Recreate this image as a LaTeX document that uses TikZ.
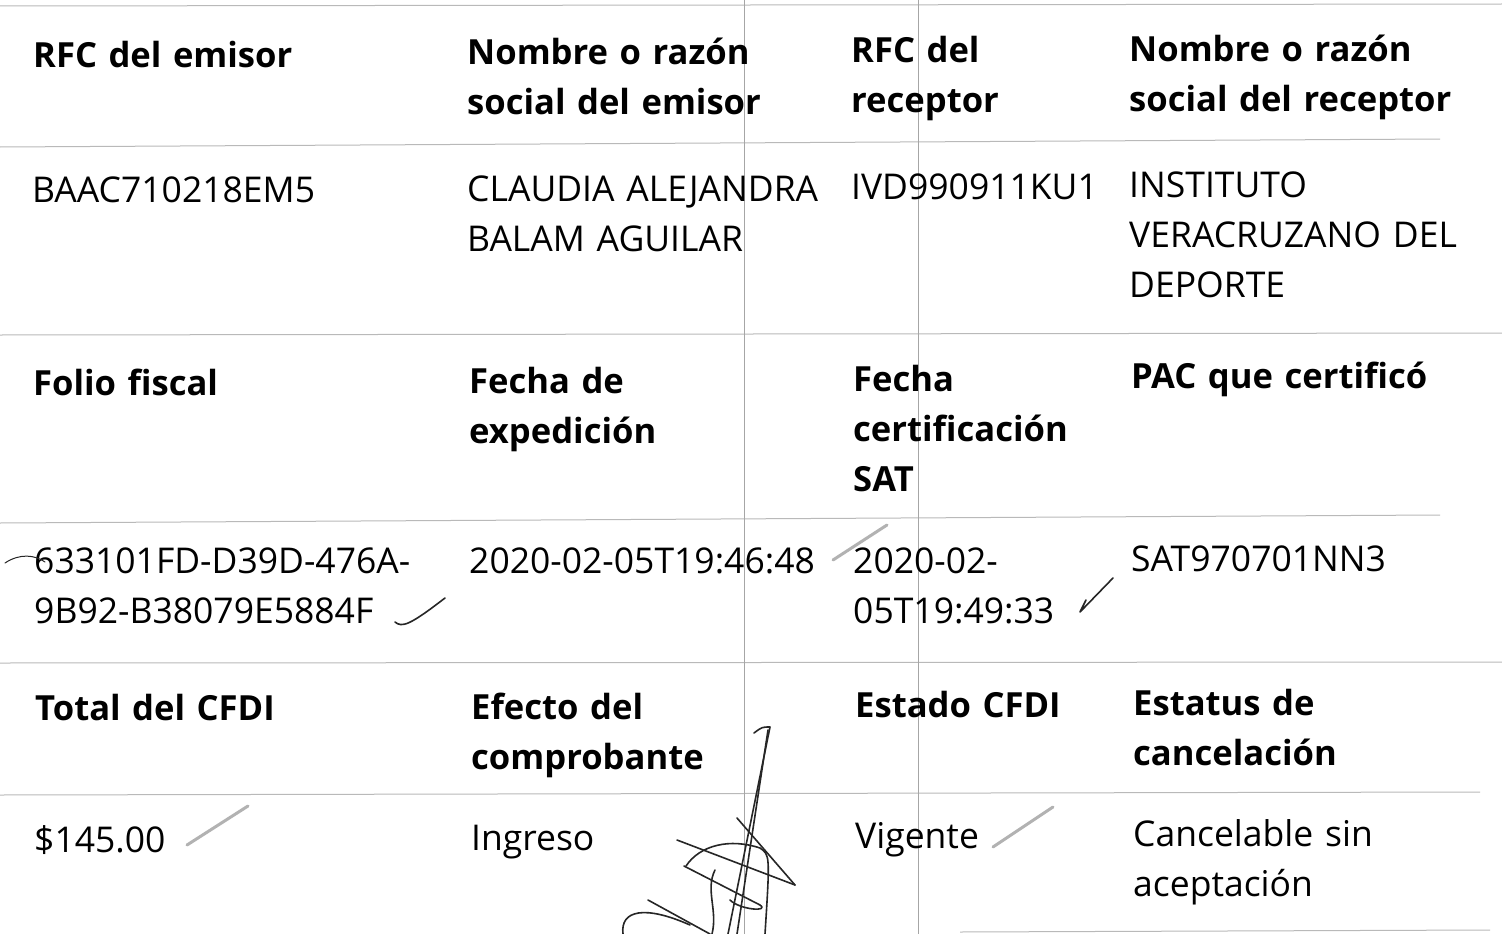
\documentclass[tikz,border=0pt]{standalone}
\usepackage{fontspec}
\setmainfont{Open Sans}
\usepackage{tikz}

\begin{document}
\begin{tikzpicture}[x=1pt,y=-1pt]

\tikzstyle{every node}=[inner sep=0pt, anchor=base west, text width=600pt, align=left, font=\fontsize{35.5}{50}\selectfont]
\tikzstyle{head}=[font=\fontsize{34.6}{50}\selectfont\bfseries]
\tikzstyle{rule}=[gray!55, line width=1pt]
\tikzstyle{fold}=[gray!70, line width=0.8pt]
\tikzstyle{pen}=[black!85, line width=1.6pt, line cap=round, line join=round]
\tikzstyle{pencil}=[gray!60, line width=3pt, line cap=round]

\fill[white] (0,0) rectangle (1502,934);
\useasboundingbox (0,0) rectangle (1502,934);

% table rules and folds
\draw[rule] (0,6) -- (1502,4);
\draw[rule] (0,147) -- (1440,139);
\draw[rule] (0,335) -- (1502,333);
\draw[rule] (0,523) -- (1440,515);
\draw[rule] (0,663) -- (1502,662);
\draw[rule] (0,795) -- (1480,792);
\draw[rule] (960,932) -- (1490,930);
\draw[fold] (744,0) -- (744,934);
\draw[fold] (918,0) -- (918,934);

\pgfmathsetmacro\y{67}
\node[head] (rfcEmisorH) at (33,\y) {RFC del emisor};
\node[head] (nomEmisorH) at (467,\y-2) {Nombre o razón\\social del emisor};
\node[head] (rfcReceptorH) at (851,\y-4) {RFC del\\receptor};
\node[head] (nomReceptorH) at (1129,\y-5) {Nombre o razón\\social del receptor};

\pgfmathsetmacro\y{202}
\node (rfcEmisor) at (32,\y) {BAAC710218EM5};
\node (nomEmisor) at (467,\y-1) {CLAUDIA ALEJANDRA\\BALAM AGUILAR};
\node (rfcReceptor) at (851,\y-3) {IVD990911KU1};
\node (nomReceptor) at (1129,\y-5) {INSTITUTO\\VERACRUZANO DEL\\DEPORTE};

\pgfmathsetmacro\y{395}
\node[head] (folioH) at (33,\y) {Folio fiscal};
\node[head] (expedicionH) at (469,\y-2) {Fecha de\\expedición};
\node[head] (certificacionH) at (853,\y-4) {Fecha\\certificación\\SAT};
\node[head] (pacH) at (1131,\y-7) {PAC que certificó};

\pgfmathsetmacro\y{573}
\node (folio) at (34,\y) {633101FD-D39D-476A-\\9B92-B38079E5884F};
\node (expedicion) at (469,\y) {2020-02-05T19:46:48};
\node (certificacion) at (853,\y) {2020-02-\\05T19:49:33};
\node (pac) at (1131,\y-2) {SAT970701NN3};

\pgfmathsetmacro\y{720}
\node[head] (totalH) at (35,\y) {Total del CFDI};
\node[head] (efectoH) at (471,\y-1) {Efecto del\\comprobante};
\node[head] (estadoH) at (855,\y-3) {Estado CFDI};
\node[head] (estatusH) at (1133,\y-5) {Estatus de\\cancelación};

\pgfmathsetmacro\y{852}
\node (total) at (34,\y) {\$145.00};
\node (efecto) at (471,\y-2) {Ingreso};
\node (estado) at (855,\y-4) {Vigente};
\node (estatus) at (1133,\y-6) {Cancelable sin\\aceptación};

% pen marks
\draw[pen, line width=1pt] (5,563) .. controls (20,553) and (35,555) .. (45,562);
\draw[pen] (395,622) .. controls (402,628) and (410,625) .. (445,598);
\draw[pencil] (833,560) -- (887,525);
\draw[pen] (1086,600) -- (1080,612) -- (1113,578);
\draw[pencil] (187,845) -- (248,806);
\draw[pencil] (993,847) -- (1053,807);

% signature
\draw[pen] (754,733) .. controls (762,727) .. (770,727) -- (728,934);
\draw[pen] (768,730) -- (737,934);
\draw[pen] (737,818) -- (795,885);
\draw[pen] (677,840) -- (795,885);
\draw[pen] (686,866) .. controls (700,845) and (730,838) .. (760,848) .. controls (770,855) .. (765,934);
\draw[pen] (684,866) -- (760,905) .. controls (770,912) and (740,910) .. (730,900);
\draw[pen] (648,900) -- (710,934);
\draw[pen] (623,934) .. controls (620,910) and (645,905) .. (690,925);
\draw[pen] (715,870) .. controls (705,890) and (718,910) .. (712,934);

\end{tikzpicture}
\end{document}
